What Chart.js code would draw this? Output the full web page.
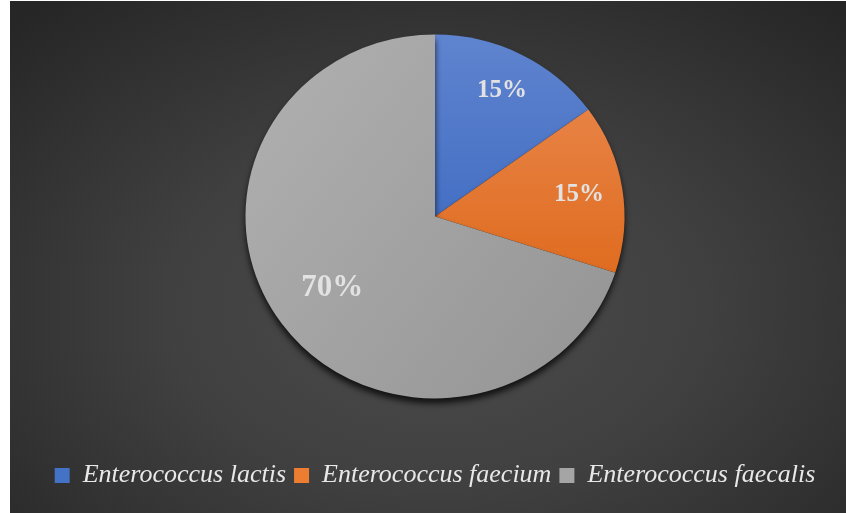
<!DOCTYPE html>
<html>
<head>
<meta charset="utf-8">
<script src="https://cdn.jsdelivr.net/npm/chart.js@4"></script>
<style>
    html, body { margin: 0; padding: 0; background: #fff; }
    #wrap {
        position: absolute;
        left: 10px;
        top: 1px;
        width: 836px;
        height: 512px;
        background: radial-gradient(ellipse 72% 78% at 51% 60%, #4c4c4c 0%, #404040 45%, #262626 100%);
    }
</style>
</head>
<body>
<div id="wrap"><canvas id="pieChart"></canvas></div>
<script>
const species = ['Enterococcus lactis', 'Enterococcus faecium', 'Enterococcus faecalis'];
const shares = [15, 15, 70];
const sliceColors = ['#4472c4', '#ed7d31', '#a5a5a5'];

// top / bottom shades for each slice
const shadeStops = [
    ['#5f84cf', '#3a67bf'],
    ['#ea8c55', '#df6a1c'],
    ['#b4b4b4', '#909090']
];

// the pie is a little flatter than a circle
const squash = 0.96;

function sliceFill(context) {
    const i = context.dataIndex;
    const area = context.chart.chartArea;
    if (!area) return sliceColors[i];
    const ctx = context.chart.ctx;
    let g;
    if (i === 2) {
        g = ctx.createLinearGradient(area.left + 150, area.top, area.right - 150, area.bottom);
    } else {
        g = ctx.createLinearGradient(0, area.top, 0, area.top + (area.bottom - area.top) * 0.7);
    }
    g.addColorStop(0, shadeStops[i][0]);
    g.addColorStop(1, shadeStops[i][1]);
    return g;
}

// flatten the pie and drop a shadow under it
const pieShape = {
    id: 'pieShape',
    beforeDatasetDraw(chart) {
        const ctx = chart.ctx;
        const arc = chart.getDatasetMeta(0).data[0];
        ctx.save();
        ctx.translate(arc.x, arc.y);
        ctx.scale(1, squash);
        ctx.translate(-arc.x, -arc.y);
        ctx.shadowColor = 'rgba(0, 0, 0, 0.75)';
        ctx.shadowBlur = 6;
        ctx.shadowOffsetY = 5;
    },
    afterDatasetDraw(chart) {
        chart.ctx.restore();
    }
};

// percentage labels inside the slices, the big slice gets a bigger label
const sliceLabels = {
    id: 'sliceLabels',
    afterDatasetsDraw(chart) {
        const ctx = chart.ctx;
        const offsets = [0.78, 0.77, 0.67];
        const sizes = [25, 25, 31];
        const meta = chart.getDatasetMeta(0);
        ctx.save();
        ctx.fillStyle = '#e2e2e2';
        ctx.textAlign = 'center';
        ctx.textBaseline = 'middle';
        meta.data.forEach((arc, i) => {
            const p = arc.getProps(['x', 'y', 'startAngle', 'endAngle', 'outerRadius'], true);
            const mid = (p.startAngle + p.endAngle) / 2;
            const r = p.outerRadius * offsets[i];
            ctx.font = 'bold ' + sizes[i] + 'px "Liberation Serif", "Times New Roman", serif';
            ctx.fillText(shares[i] + '%', p.x + Math.cos(mid) * r, p.y + Math.sin(mid) * r * squash);
        });
        ctx.restore();
    }
};

new Chart(document.getElementById('pieChart'), {
    type: 'pie',
    data: {
        labels: species,
        datasets: [{
            data: shares,
            backgroundColor: sliceFill,
            borderWidth: 0
        }]
    },
    options: {
        responsive: true,
        maintainAspectRatio: false,
        animation: false,
        layout: {
            padding: { top: 26, left: 14, right: 0, bottom: 14.5 }
        },
        plugins: {
            tooltip: { enabled: false },
            legend: {
                position: 'bottom',
                title: {
                    display: true,
                    text: '',
                    padding: { top: 17, bottom: 17.1 }
                },
                labels: {
                    boxWidth: 15,
                    boxHeight: 15,
                    padding: 8,
                    color: '#e8e8e8',
                    font: { family: '"Liberation Serif", "Times New Roman", serif', style: 'italic', size: 26 },
                    generateLabels(chart) {
                        const items = Chart.overrides.pie.plugins.legend.labels.generateLabels(chart);
                        items.forEach((item, i) => {
                            item.fillStyle = sliceColors[i];
                            item.strokeStyle = sliceColors[i];
                            item.lineWidth = 0;
                        });
                        return items;
                    }
                }
            }
        }
    },
    plugins: [pieShape, sliceLabels]
});
</script>
</body>
</html>
